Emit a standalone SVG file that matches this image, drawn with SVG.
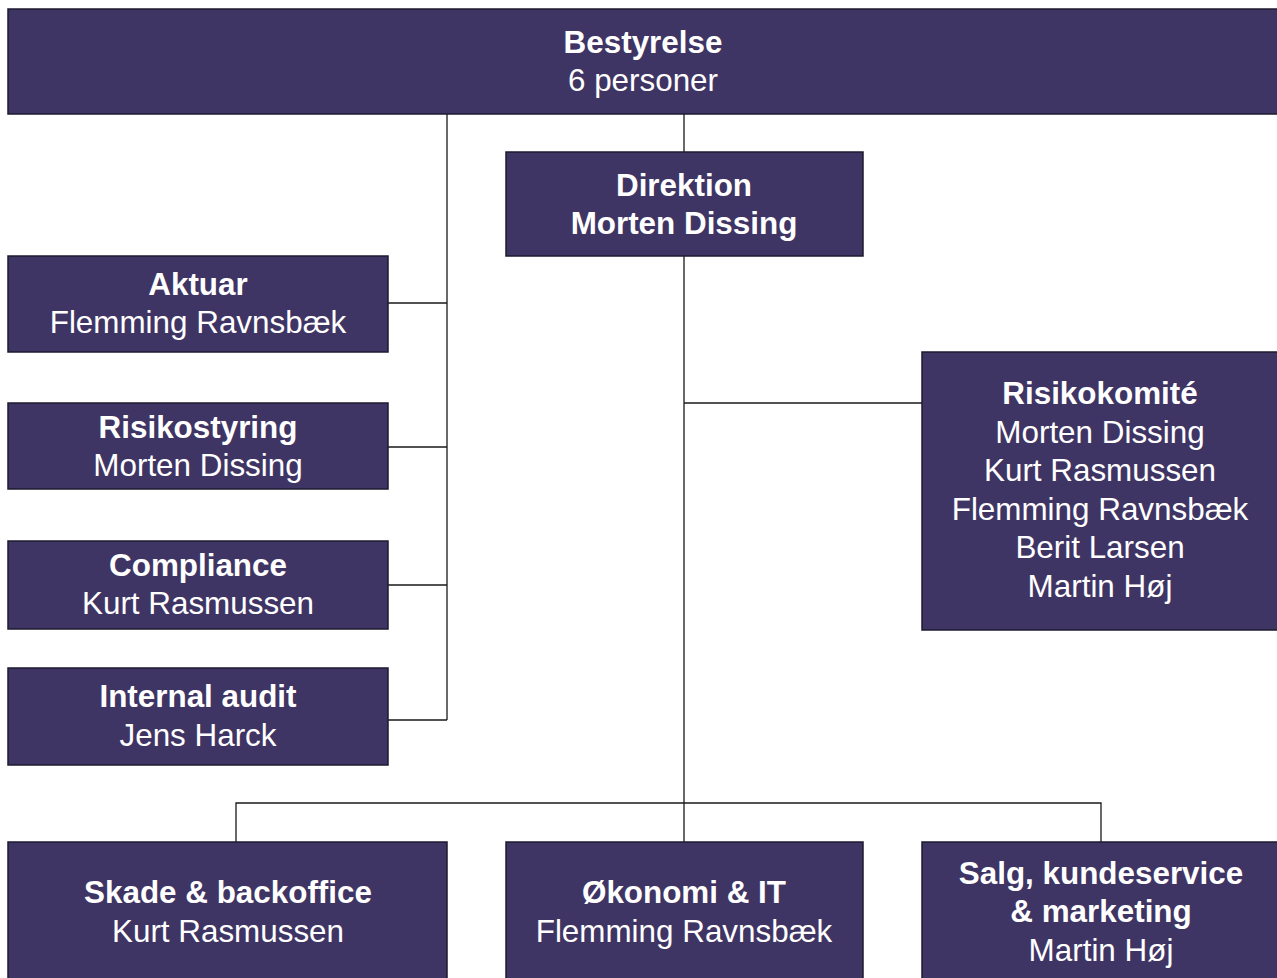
<svg xmlns="http://www.w3.org/2000/svg" width="1277" height="978" viewBox="0 0 1277 978">
<style>
.box{fill:#3f3564;stroke:#1e1a2e;stroke-width:1.5}
.conn{fill:none;stroke:#1a1a1a;stroke-width:1.3}
text{font-family:"Liberation Sans",Arial,sans-serif;font-size:31.4px;fill:#ffffff;text-anchor:middle}
.b{font-weight:bold}
</style>
<rect width="1277" height="978" fill="#ffffff"/>
<g id="connectors">
<path class="conn" d="M684 114V152M684 256V842M236 842V803H1101V842M684 403H922"/>
<path class="conn" d="M447 114V720M388 303H447M388 447H447M388 585H447M388 720H447"/>
</g>
<g id="bestyrelse">
<rect class="box" x="8" y="9" width="1272" height="105"/>
<text class="b" x="643" y="53">Bestyrelse</text>
<text x="643" y="91">6 personer</text>
</g>
<g id="direktion">
<rect class="box" x="506" y="152" width="357" height="104"/>
<text class="b" x="684" y="196">Direktion</text>
<text class="b" x="684" y="234">Morten Dissing</text>
</g>
<g id="aktuar">
<rect class="box" x="8" y="256" width="380" height="96"/>
<text class="b" x="198" y="295">Aktuar</text>
<text x="198" y="333">Flemming Ravnsbæk</text>
</g>
<g id="risikostyring">
<rect class="box" x="8" y="403" width="380" height="86"/>
<text class="b" x="198" y="438">Risikostyring</text>
<text x="198" y="476">Morten Dissing</text>
</g>
<g id="compliance">
<rect class="box" x="8" y="541" width="380" height="88"/>
<text class="b" x="198" y="576">Compliance</text>
<text x="198" y="614">Kurt Rasmussen</text>
</g>
<g id="internal-audit">
<rect class="box" x="8" y="668" width="380" height="97"/>
<text class="b" x="198" y="707">Internal audit</text>
<text x="198" y="746">Jens Harck</text>
</g>
<g id="risikokomite">
<rect class="box" x="922" y="352" width="358" height="278"/>
<text class="b" x="1100" y="404">Risikokomité</text>
<text x="1100" y="443">Morten Dissing</text>
<text x="1100" y="481">Kurt Rasmussen</text>
<text x="1100" y="520">Flemming Ravnsbæk</text>
<text x="1100" y="558">Berit Larsen</text>
<text x="1100" y="597">Martin Høj</text>
</g>
<g id="skade">
<rect class="box" x="8" y="842" width="439" height="140"/>
<text class="b" x="228" y="903">Skade &amp; backoffice</text>
<text x="228" y="942">Kurt Rasmussen</text>
</g>
<g id="okonomi">
<rect class="box" x="506" y="842" width="357" height="140"/>
<text class="b" x="684" y="903">Økonomi &amp; IT</text>
<text x="684" y="942">Flemming Ravnsbæk</text>
</g>
<g id="salg">
<rect class="box" x="922" y="842" width="358" height="140"/>
<text class="b" x="1101" y="884">Salg, kundeservice</text>
<text class="b" x="1101" y="922">&amp; marketing</text>
<text x="1101" y="961">Martin Høj</text>
</g>
</svg>
